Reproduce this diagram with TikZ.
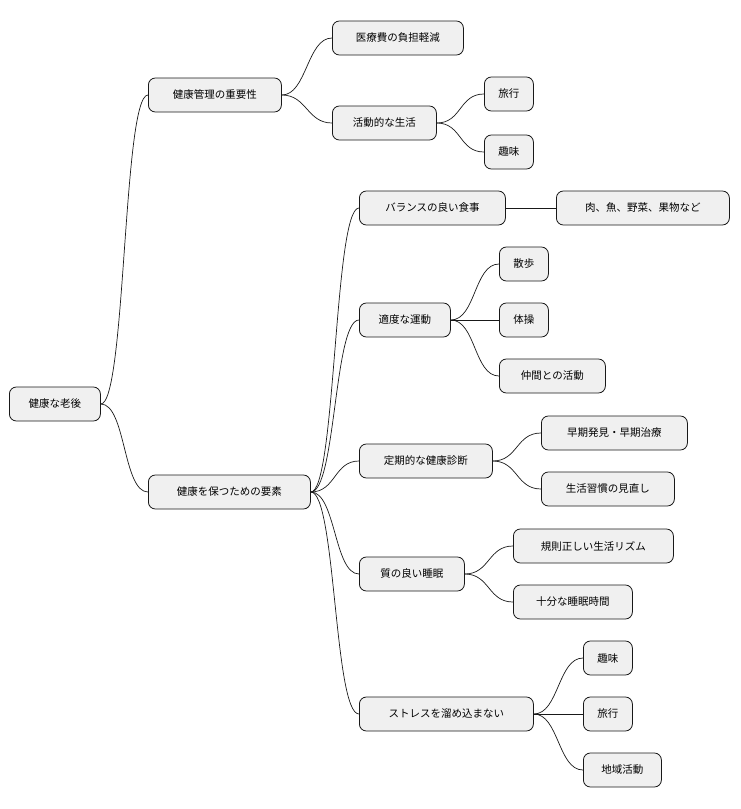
\documentclass[tikz,border=0pt]{standalone}
\usepackage{fontspec}
\setmainfont{Noto Sans CJK JP}
\usetikzlibrary{positioning}

\begin{document}
\begin{tikzpicture}[x=1pt,y=-1pt,
    every node/.style={font=\fontsize{10.5}{12}\selectfont},
    topic/.style={draw=black!90,fill=black!6,rounded corners=7pt,anchor=west,minimum height=34pt,inner sep=0pt,line width=.8pt},
    link/.style={draw=black!90,line width=.7pt}]
  \useasboundingbox (0,0) rectangle (740,809);

  \node[topic,minimum width=91pt] (ROOT) at (9,404) {健康な老後};

  \node[topic,minimum width=133pt] (KANRI) at (148,95) {健康管理の重要性};
  \node[topic,minimum width=131pt] (IRYO) at (332,38) {医療費の負担軽減};
  \node[topic,minimum width=104pt] (KATSU) at (332,123) {活動的な生活};
  \node[topic,minimum width=49pt] (RYOKO1) at (484,94) {旅行};
  \node[topic,minimum width=49pt] (SHUMI1) at (484,152) {趣味};

  \node[topic,minimum width=162pt] (YOSO) at (148,492) {健康を保つための要素};
  \node[topic,minimum width=146pt] (SHOKU) at (359,208) {バランスの良い食事};
  \node[topic,minimum width=173pt] (NIKU) at (556,208) {肉、魚、野菜、果物など};
  \node[topic,minimum width=91pt] (UNDO) at (359,320) {適度な運動};
  \node[topic,minimum width=49pt] (SANPO) at (499,264) {散歩};
  \node[topic,minimum width=49pt] (TAISO) at (499,320) {体操};
  \node[topic,minimum width=106pt] (NAKAMA) at (499,376) {仲間との活動};
  \node[topic,minimum width=133pt] (SHINDAN) at (359,461) {定期的な健康診断};
  \node[topic,minimum width=146pt] (SOKI) at (541,433) {早期発見・早期治療};
  \node[topic,minimum width=133pt] (SHUKAN) at (541,489) {生活習慣の見直し};
  \node[topic,minimum width=105pt] (SUIMIN) at (359,574) {質の良い睡眠};
  \node[topic,minimum width=160pt] (RIZUMU) at (513,546) {規則正しい生活リズム};
  \node[topic,minimum width=119pt] (JIKAN) at (513,602) {十分な睡眠時間};
  \node[topic,minimum width=174pt] (STRESS) at (359,714) {ストレスを溜め込まない};
  \node[topic,minimum width=49pt] (SHUMI2) at (583,658) {趣味};
  \node[topic,minimum width=49pt] (RYOKO2) at (583,714) {旅行};
  \node[topic,minimum width=78pt] (CHIIKI) at (583,770) {地域活動};

  \foreach \a/\b in {ROOT/KANRI,ROOT/YOSO,KANRI/IRYO,KANRI/KATSU,KATSU/RYOKO1,KATSU/SHUMI1,
      YOSO/SHOKU,YOSO/UNDO,YOSO/SHINDAN,YOSO/SUIMIN,YOSO/STRESS,SHOKU/NIKU,
      UNDO/SANPO,UNDO/TAISO,UNDO/NAKAMA,SHINDAN/SOKI,SHINDAN/SHUKAN,
      SUIMIN/RIZUMU,SUIMIN/JIKAN,STRESS/SHUMI2,STRESS/RYOKO2,STRESS/CHIIKI}
    \draw[link] (\a.east) .. controls +(25,0) and +(-25,0) .. (\b.west);
\end{tikzpicture}
\end{document}
